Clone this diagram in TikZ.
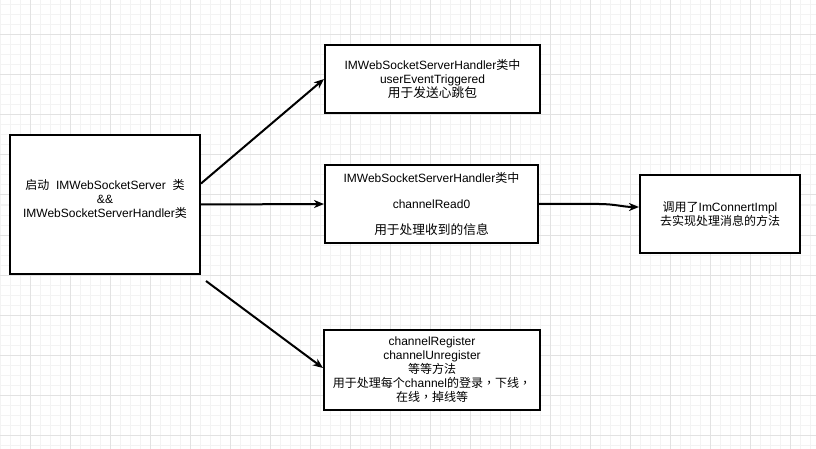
\documentclass[tikz,border=0pt]{standalone}
\usepackage{fontspec}
\setmainfont{Liberation Sans}
\newfontfamily\zhfont{Noto Sans CJK SC}
\newfontfamily\zhwfont[Scale=1.06]{Noto Sans CJK SC}
\newfontfamily\zhpfont{Noto Sans CJK TC}
\newcommand\zh[1]{{\zhfont #1}}
\newcommand\zhw[1]{{\zhwfont #1}}
\newcommand\cm{{\zhpfont ，}}
\newcommand\boxfont{\fontsize{12}{14}\selectfont\lineskiplimit=-20pt\relax}
\usetikzlibrary{arrows.meta}
\definecolor{gridminor}{HTML}{F3F3F3}
\definecolor{gridmajor}{HTML}{E2E2E2}
\begin{document}
\begin{tikzpicture}[x=1pt,y=-1pt,
  box/.style={draw=black, line width=2pt, fill=white, inner sep=0pt, align=center,
    font=\boxfont, text=black},
  txt/.style={inner sep=0pt, align=center, font=\boxfont, text=black},
  conn/.style={line width=2pt, -{Stealth[length=10pt,width=8pt,inset=3pt]}}]
\useasboundingbox (0,0) rectangle (816,449);
\fill[white] (0,0) rectangle (816,449);
% background grid: fine lines every 10, heavier every 40
\foreach \x in {0,10,...,810} \draw[gridminor, line width=1pt] (\x,0) -- (\x,449);
\foreach \y in {5,15,...,445} \draw[gridminor, line width=1pt] (0,\y) -- (816,\y);
\foreach \x in {30,70,...,790} \draw[gridmajor, line width=1pt] (\x,0) -- (\x,449);
\foreach \y in {35,75,...,435} \draw[gridmajor, line width=1pt] (0,\y) -- (816,\y);

% boxes
\node[box, minimum width=190pt, minimum height=139pt] (L) at (105,204.5) {};
\node[txt] (Ltext) at (105,199) {\zh{启动}\ \ IMWebSocketServer\ \ \zh{类}\\\&\&\\IMWebSocketServerHandler\zh{类}};
\node[box, minimum width=215pt, minimum height=68pt] (T) at (432.5,79)
  {IMWebSocketServerHandler\zh{类中}\\userEventTriggered\\\zhw{用于发送心跳包}};
\node[box, minimum width=213pt, minimum height=78pt] (M) at (431.5,204)
  {IMWebSocketServerHandler\zh{类中}\\[12pt]channelRead0\\[12pt]\zhw{用于处理收到的信息}};
\node[box, minimum width=216pt, minimum height=80pt] (B) at (432,370)
  {channelRegister\\channelUnregister\\\zh{等等方法}\\\zh{用于处理每个}channel\zh{的登录}\cm\zh{下线}\cm\\\zh{在线}\cm\zh{掉线等}};
\node[box, minimum width=160pt, minimum height=78pt] (R) at (720,214)
  {\zh{调用了}ImConnertImpl\\\zh{去实现处理消息的方法}};

% connectors
\draw[conn] ([yshift=21pt]L.east) -- (T.west);
\draw[conn] (L.east) -- (M.west);
\draw[conn] ([xshift=5pt,yshift=-6pt]L.south east) -- ([yshift=2pt]B.west);
\draw[conn] (M.east) -- ++(60,0) to[out=0,in=180] ([yshift=7pt]R.west);
\end{tikzpicture}
\end{document}
